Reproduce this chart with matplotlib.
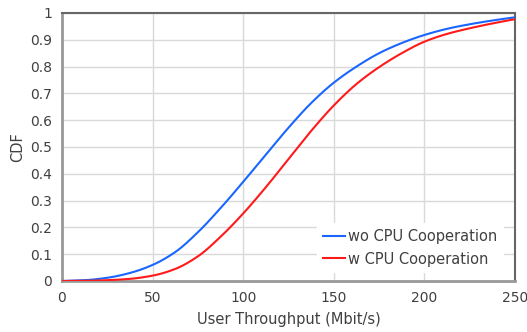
import matplotlib.pyplot as plt
import numpy as np

throughput = [0, 12.5, 25, 37.5, 50, 62.5, 75, 87.5, 100, 112.5, 125,
              137.5, 150, 162.5, 175, 187.5, 200, 212.5, 225, 237.5, 250]
cdf_wo = [0, 0.003, 0.012, 0.03, 0.06, 0.108, 0.182, 0.272, 0.37, 0.472, 0.572,
          0.664, 0.74, 0.80, 0.85, 0.888, 0.918, 0.941, 0.958, 0.972, 0.984]
cdf_w = [0, 0.0005, 0.003, 0.008, 0.02, 0.045, 0.092, 0.165, 0.252, 0.35, 0.455,
         0.56, 0.655, 0.735, 0.798, 0.85, 0.893, 0.922, 0.943, 0.961, 0.977]

xticks = [0, 50, 100, 150, 200, 250]
yticks = [0, 0.1, 0.2, 0.3, 0.4, 0.5, 0.6, 0.7, 0.8, 0.9, 1]
ytick_labels = ['0', '0.1', '0.2', '0.3', '0.4', '0.5', '0.6', '0.7', '0.8', '0.9', '1']


def pchip(x, y, xs):
    # monotone cubic so the curves stay smooth between read-off points
    x = np.asarray(x, float)
    y = np.asarray(y, float)
    h = np.diff(x)
    d = np.diff(y) / h
    m = np.zeros_like(y)
    for k in range(1, len(x) - 1):
        if d[k - 1] * d[k] > 0:
            w1 = 2 * h[k] + h[k - 1]
            w2 = h[k] + 2 * h[k - 1]
            m[k] = (w1 + w2) / (w1 / d[k - 1] + w2 / d[k])
    m[0] = d[0]
    m[-1] = d[-1]
    idx = np.clip(np.searchsorted(x, xs) - 1, 0, len(h) - 1)
    t = (xs - x[idx]) / h[idx]
    h00 = 2 * t**3 - 3 * t**2 + 1
    h10 = t**3 - 2 * t**2 + t
    h01 = -2 * t**3 + 3 * t**2
    h11 = t**3 - t**2
    return (h00 * y[idx] + h10 * h[idx] * m[idx]
            + h01 * y[idx + 1] + h11 * h[idx] * m[idx + 1])


plt.rcParams['font.family'] = ['DejaVu Sans']
text_c = '#404040'

fig = plt.figure(figsize=(5.27, 3.32), dpi=100)
ax = fig.add_axes([62 / 527, 1 - 281 / 332, 453 / 527, 268 / 332])

xs = np.linspace(0, 250, 500)
ax.plot(xs, pchip(throughput, cdf_wo, xs), color='#1a66ff', lw=1.5,
        label='wo CPU Cooperation', zorder=3)
ax.plot(xs, pchip(throughput, cdf_w, xs), color='#ff1a1a', lw=1.5,
        label='w CPU Cooperation', zorder=3)

ax.set_xlim(0, 250)
ax.set_ylim(0, 1)
ax.set_xticks(xticks)
ax.set_yticks(yticks)
ax.set_yticklabels(ytick_labels)
ax.grid(True, color='#d9d9d9', lw=1)
ax.set_axisbelow(True)
ax.tick_params(length=0, labelsize=10, colors=text_c, pad=7)

for side in ['left', 'bottom']:
    ax.spines[side].set_color('#999999')
    ax.spines[side].set_linewidth(2)
for side in ['top', 'right']:
    ax.spines[side].set_color('#666666')
    ax.spines[side].set_linewidth(1.5)

ax.set_xlabel('User Throughput (Mbit/s)', fontsize=10.5, color=text_c, labelpad=5)
ax.set_ylabel('CDF', fontsize=10.5, color=text_c, labelpad=4)

leg = ax.legend(loc='lower right', bbox_to_anchor=(0.99, 0.005), frameon=True,
                fontsize=10.5, handlelength=1.5, handletextpad=0.2,
                labelspacing=0.5, borderpad=0.4, fancybox=False)
leg.get_frame().set_facecolor('white')
leg.get_frame().set_edgecolor('white')
leg.get_frame().set_alpha(1)
for t in leg.get_texts():
    t.set_color(text_c)

fig.savefig('out.png', dpi=100)
